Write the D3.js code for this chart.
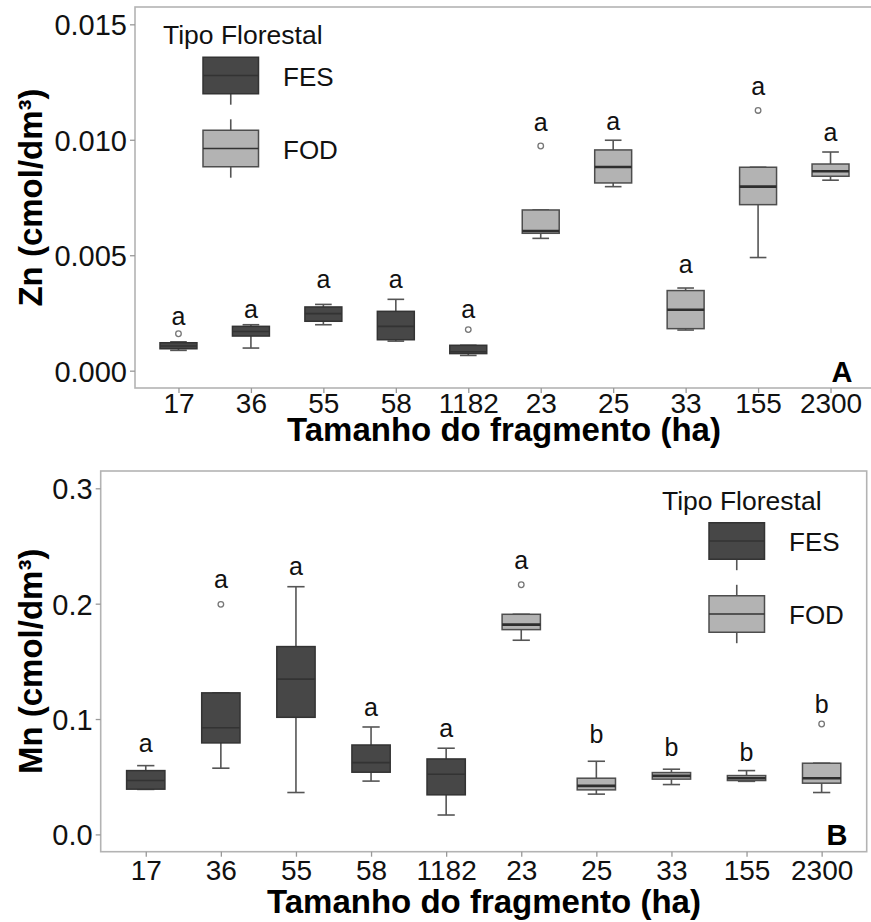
<!DOCTYPE html>
<html>
<head>
<meta charset="utf-8">
<script src="https://d3js.org/d3.v7.min.js"></script>
<style>
  body { margin: 0; background: #fff; }
  svg { display: block; font-family: "Liberation Sans", Arial, sans-serif; }
</style>
</head>
<body>
<div class="chart"></div>
<script>
const categories = ["17", "36", "55", "58", "1182", "23", "25", "33", "155", "2300"];
const tipo = ["FES", "FES", "FES", "FES", "FES", "FOD", "FOD", "FOD", "FOD", "FOD"];
const tipoLevels = ["FES", "FOD"];

// Zn (panel A)
const znLow  = [0.00088, 0.00098, 0.00199, 0.00128, 0.00066, 0.00573, 0.00797, 0.00176, 0.00490, 0.00825];
const znQ1   = [0.00095, 0.00150, 0.00214, 0.00134, 0.00074, 0.00595, 0.00813, 0.00182, 0.00719, 0.00842];
const znMed  = [0.00107, 0.00170, 0.00247, 0.00192, 0.00082, 0.00605, 0.00882, 0.00264, 0.00797, 0.00864];
const znQ3   = [0.00121, 0.00192, 0.00276, 0.00257, 0.00110, 0.00696, 0.00956, 0.00347, 0.00881, 0.00895];
const znHigh = [0.00125, 0.00199, 0.00287, 0.00309, 0.00110, 0.00696, 0.00998, 0.00358, 0.00881, 0.00947];
const znOut  = [[0.00160], [], [], [], [0.00178], [0.00973], [], [], [0.01127], []];
const znLetters = ["a", "a", "a", "a", "a", "a", "a", "a", "a", "a"];
const znLetterY = [0.00200, 0.00227, 0.00357, 0.00357, 0.00227, 0.01039, 0.01043, 0.00422, 0.01192, 0.00993];
const znTicks = [0, 0.005, 0.010, 0.015];

// Mn (panel B)
const mnLow  = [0.0390, 0.0574, 0.0363, 0.0462, 0.0168, 0.1683, 0.0349, 0.0432, 0.0460, 0.0363];
const mnQ1   = [0.0392, 0.0793, 0.1015, 0.0539, 0.0343, 0.1775, 0.0386, 0.0479, 0.0467, 0.0444];
const mnMed  = [0.0467, 0.0925, 0.1346, 0.0622, 0.0522, 0.1818, 0.0421, 0.0507, 0.0487, 0.0487];
const mnQ3   = [0.0553, 0.1227, 0.1628, 0.0775, 0.0654, 0.1908, 0.0487, 0.0536, 0.0510, 0.0617];
const mnHigh = [0.0596, 0.1227, 0.2147, 0.0931, 0.0747, 0.1908, 0.0634, 0.0565, 0.0553, 0.0617];
const mnOut  = [[], [0.1994], [], [], [], [0.2164], [], [], [], [0.0957]];
const mnLetters = ["a", "a", "a", "a", "a", "a", "b", "b", "b", "b"];
const mnLetterY = [0.0710, 0.2133, 0.2250, 0.1022, 0.0848, 0.2302, 0.0789, 0.0682, 0.0639, 0.1049];
const mnTicks = [0, 0.1, 0.2, 0.3];

const fills = { FES: "#474747", FOD: "#b3b3b3" };
const strokes = { FES: "#333333", FOD: "#4d4d4d" };

const svg = d3.select('.chart')
  .append('svg')
  .attr('width', 871)
  .attr('height', 922);

function drawPanel(p) {
  const g = svg.append('g');

  const x = d3.scalePoint()
    .domain(categories)
    .range([p.left, p.right])
    .padding(0.6);
  const step = x.step();

  const span = p.limits[1] - p.limits[0];
  const y = d3.scaleLinear()
    .domain([p.limits[0] - 0.05 * span, p.limits[1] + 0.05 * span])
    .range([p.bottom, p.top]);

  // panel border
  g.append('rect')
    .attr('x', p.left).attr('y', p.top)
    .attr('width', p.right - p.left).attr('height', p.bottom - p.top)
    .attr('fill', 'none').attr('stroke', '#b3b3b3').attr('stroke-width', 1.6);

  // axes
  const yAxis = d3.axisLeft(y).tickValues(p.ticks).tickFormat(d3.format(p.fmt)).tickSize(5).tickPadding(3);
  const ya = g.append('g').attr('transform', `translate(${p.left},0)`).call(yAxis);
  ya.select('.domain').remove();
  ya.selectAll('line').attr('stroke', '#999').attr('stroke-width', 1.3);
  ya.selectAll('text').attr('font-size', 29).attr('fill', '#111').attr('dy', '0.36em');

  const xAxis = d3.axisBottom(x).tickSize(5).tickPadding(4);
  const xa = g.append('g').attr('transform', `translate(0,${p.bottom})`).call(xAxis);
  xa.select('.domain').remove();
  xa.selectAll('line').attr('stroke', '#999').attr('stroke-width', 1.3);
  xa.selectAll('text').attr('font-size', 28).attr('fill', '#111')
    .attr('dy', null).attr('y', p.tickBase - p.bottom);

  const rows = categories.map((c, i) => ({
    cat: c, tipo: tipo[i],
    low: p.low[i], q1: p.q1[i], med: p.med[i], q3: p.q3[i], high: p.high[i],
    out: p.out[i], letter: p.letters[i], ly: p.letterY[i]
  }));

  const bw = step * 0.51;
  const cw = step * 0.23;
  const box = g.selectAll('.box').data(rows).enter().append('g').attr('class', 'box');

  // whiskers + caps
  box.append('line')
    .attr('x1', d => x(d.cat)).attr('x2', d => x(d.cat))
    .attr('y1', d => y(d.q3)).attr('y2', d => y(d.high))
    .attr('stroke', '#555').attr('stroke-width', 1.6);
  box.append('line')
    .attr('x1', d => x(d.cat)).attr('x2', d => x(d.cat))
    .attr('y1', d => y(d.q1)).attr('y2', d => y(d.low))
    .attr('stroke', '#555').attr('stroke-width', 1.6);
  [d => d.high, d => d.low].forEach(f => {
    box.append('line')
      .attr('x1', d => x(d.cat) - cw / 2).attr('x2', d => x(d.cat) + cw / 2)
      .attr('y1', d => y(f(d))).attr('y2', d => y(f(d)))
      .attr('stroke', '#555').attr('stroke-width', 1.6);
  });

  box.append('rect')
    .attr('x', d => x(d.cat) - bw / 2)
    .attr('y', d => y(d.q3))
    .attr('width', bw)
    .attr('height', d => y(d.q1) - y(d.q3))
    .attr('fill', d => fills[d.tipo])
    .attr('stroke', d => strokes[d.tipo]).attr('stroke-width', 1.5);

  box.append('line')
    .attr('x1', d => x(d.cat) - bw / 2).attr('x2', d => x(d.cat) + bw / 2)
    .attr('y1', d => y(d.med)).attr('y2', d => y(d.med))
    .attr('stroke', d => d.tipo === 'FES' ? '#333' : '#2e2e2e')
    .attr('stroke-width', d => d.tipo === 'FES' ? 1.6 : 2.6);

  box.selectAll('circle').data(d => d.out.map(v => ({ cat: d.cat, v }))).enter()
    .append('circle')
    .attr('cx', d => x(d.cat)).attr('cy', d => y(d.v)).attr('r', 2.8)
    .attr('fill', 'none').attr('stroke', '#777').attr('stroke-width', 1.3);

  box.append('text')
    .attr('x', d => x(d.cat)).attr('y', d => y(d.ly))
    .attr('text-anchor', 'middle').attr('font-size', 25).attr('fill', '#111')
    .text(d => d.letter);

  // axis titles
  g.append('text')
    .attr('transform', `translate(42,${(p.top + p.bottom) / 2}) rotate(-90)`)
    .attr('text-anchor', 'middle').attr('font-size', 33).attr('font-weight', 'bold')
    .text(p.yTitle);
  g.append('text')
    .attr('x', p.titleX).attr('y', p.titleBase)
    .attr('text-anchor', 'middle').attr('font-size', 33).attr('font-weight', 'bold')
    .text('Tamanho do fragmento (ha)');

  // panel tag
  g.append('text')
    .attr('x', p.tagX).attr('y', p.tagY)
    .attr('text-anchor', 'middle').attr('font-size', 29).attr('font-weight', 'bold')
    .text(p.tag);

  // legend
  const lg = g.append('g');
  lg.append('text').attr('x', p.legX).attr('y', p.legTitleY)
    .attr('font-size', 26.5).attr('fill', '#111').text('Tipo Florestal');
  const kw = 55.5, kh = 73;
  tipoLevels.forEach((t, i) => {
    const top = p.legKeyTop + i * kh;
    const cx = p.legKeyX + kw / 2;
    if (i > 0) {
      lg.append('line').attr('x1', cx).attr('x2', cx)
        .attr('y1', top + 0.1 * kh).attr('y2', top + 0.25 * kh)
        .attr('stroke', '#555').attr('stroke-width', 1.6);
    }
    lg.append('line').attr('x1', cx).attr('x2', cx)
      .attr('y1', top + 0.75 * kh).attr('y2', top + 0.9 * kh)
      .attr('stroke', '#555').attr('stroke-width', 1.6);
    lg.append('rect').attr('x', p.legKeyX).attr('y', top + 0.25 * kh)
      .attr('width', kw).attr('height', 0.5 * kh)
      .attr('fill', fills[t]).attr('stroke', strokes[t]).attr('stroke-width', 1.5);
    lg.append('line').attr('x1', p.legKeyX).attr('x2', p.legKeyX + kw)
      .attr('y1', top + 0.5 * kh).attr('y2', top + 0.5 * kh)
      .attr('stroke', '#333').attr('stroke-width', 1.5);
    lg.append('text').attr('x', p.legKeyX + 80).attr('y', top + 0.5 * kh + 10)
      .attr('font-size', 26).attr('fill', '#111').text(t);
  });
}

drawPanel({
  left: 135, right: 874, top: 7, bottom: 388,
  limits: [0, 0.015], ticks: znTicks, fmt: '.3f',
  low: znLow, q1: znQ1, med: znMed, q3: znQ3, high: znHigh, out: znOut,
  letters: znLetters, letterY: znLetterY,
  yTitle: 'Zn (cmol/dm³)', tickBase: 413, titleX: 504, titleBase: 441,
  tag: 'A', tagX: 842, tagY: 382,
  legX: 163, legTitleY: 44, legKeyX: 203, legKeyTop: 39
});

drawPanel({
  left: 100.7, right: 866.7, top: 471, bottom: 851.7,
  limits: [0, 0.3], ticks: mnTicks, fmt: '.1f',
  low: mnLow, q1: mnQ1, med: mnMed, q3: mnQ3, high: mnHigh, out: mnOut,
  letters: mnLetters, letterY: mnLetterY,
  yTitle: 'Mn (cmol/dm³)', tickBase: 880, titleX: 484, titleBase: 913,
  tag: 'B', tagX: 837, tagY: 845,
  legX: 662, legTitleY: 510, legKeyX: 709, legKeyTop: 504.5
});
</script>
</body>
</html>
